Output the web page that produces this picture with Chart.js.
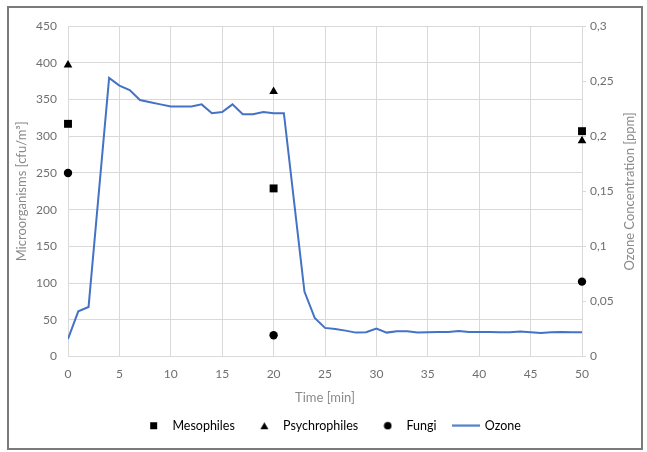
<!DOCTYPE html>
<html>
<head>
<meta charset="utf-8">
<script src="https://cdn.jsdelivr.net/npm/chart.js@4"></script>
<style>
  html, body { margin: 0; padding: 0; background: #fff; }
  #frame {
    position: absolute; left: 7px; top: 6px;
    width: 636px; height: 444px;
    border: 2px solid #7a7a7a; box-sizing: border-box;
  }
  #frame canvas { display: block; }
</style>
</head>
<body>
<div id="frame"><canvas id="chart" width="632" height="440"></canvas></div>
<script>
// ================= DATA =================
const times = [0,1,2,3,4,5,6,7,8,9,10,11,12,13,14,15,16,17,18,19,20,
  21,22,23,24,25,26,27,28,29,30,31,32,33,34,35,36,37,38,39,40,
  41,42,43,44,45,46,47,48,49,50];
const ozone = [0.016,0.041,0.045,0.149,0.253,0.246,0.242,0.233,0.231,0.229,0.227,
  0.227,0.227,0.229,0.221,0.222,0.229,0.220,0.220,0.222,0.221,
  0.221,0.140,0.059,0.035,0.026,0.025,0.0235,0.0217,0.022,0.0253,
  0.0217,0.023,0.023,0.0217,0.022,0.0223,0.0223,0.0231,0.0223,0.0223,
  0.0223,0.022,0.022,0.0227,0.022,0.0213,0.022,0.0223,0.022,0.022];

const sampleTimes = [0, 20, 50];
const mesophiles = [317, 229, 307];
const psychrophiles = [397, 361, 294];
const fungi = [250, 29, 102];

const xTicks = [0,5,10,15,20,25,30,35,40,45,50];
const leftTicks = [0,50,100,150,200,250,300,350,400,450];
const rightTicks = [0,0.05,0.1,0.15,0.2,0.25,0.3];

const FONT = "Lato, 'Open Sans', sans-serif";
const GRID = "#d9d9d9";
const TICK = "#6f6f6f";

function comma(v){
  return String(+(+v).toFixed(2)).replace(".", ",");
}

function pts(xs, ys){
  return xs.map((x,i)=>({x:x, y:ys[i]}));
}

// little legend icons
function icon(kind){
  const c = document.createElement("canvas");
  c.width = kind==="line" ? 28 : 9;
  c.height = kind==="line" ? 3 : 9;
  const g = c.getContext("2d");
  g.fillStyle = kind==="line" ? "#4472c4" : "#000";
  if(kind==="rect") g.fillRect(1,1,7,7);
  if(kind==="tri"){ g.beginPath(); g.moveTo(4.5,1); g.lineTo(8.5,8); g.lineTo(0.5,8); g.closePath(); g.fill(); }
  if(kind==="circle"){ g.beginPath(); g.arc(4.5,4.5,3.8,0,Math.PI*2); g.fill(); }
  if(kind==="line") g.fillRect(0,0.5,28,2);
  return c;
}
const icons = [icon("rect"), icon("tri"), icon("circle"), icon("line")];

// right axis title reads bottom to top, like the left one
const rightTitle = {
  id: "rightTitle",
  afterLayout(chart){
    // legend sits a little right of centre in the original
    chart.legend.left += 6;
    chart.legend.right += 6;
  },
  afterDraw(chart){
    const t = chart.scales.y1.options.title;
    const ctx = chart.ctx;
    ctx.save();
    ctx.translate(chart.width - 11, (chart.chartArea.top + chart.chartArea.bottom)/2);
    ctx.rotate(-Math.PI/2);
    ctx.font = "13px " + FONT;
    ctx.fillStyle = "#8a8a8a";
    ctx.textAlign = "center";
    ctx.textBaseline = "middle";
    ctx.fillText(t.text, 0, 0);
    ctx.restore();
  }
};

// ================= CHART =================
new Chart(document.getElementById("chart"), {
  data: {
    datasets: [
      { type:"scatter", label:"Mesophiles", data:pts(sampleTimes, mesophiles),
        pointStyle:"rect", pointRadius:5.6, backgroundColor:"#000", borderColor:"#000", borderWidth:0, clip:false, yAxisID:"y", order:1 },
      { type:"scatter", label:"Psychrophiles", data:pts(sampleTimes, psychrophiles),
        pointStyle:"triangle", pointRadius:5, backgroundColor:"#000", borderColor:"#000", borderWidth:0, clip:false, yAxisID:"y", order:1 },
      { type:"scatter", label:"Fungi", data:pts(sampleTimes, fungi),
        pointStyle:"circle", pointRadius:4.2, backgroundColor:"#000", borderColor:"#000", borderWidth:0, clip:false, yAxisID:"y", order:1 },
      { type:"line", label:"Ozone", data:pts(times, ozone),
        borderColor:"#4472c4", borderWidth:2, pointRadius:0, tension:0, fill:false, yAxisID:"y1", order:2 }
    ]
  },
  options: {
    responsive:false,
    animation:false,
    layout:{ padding:{ top:15, bottom:6, left:0, right:0 } },
    plugins:{
      tooltip:{ enabled:false },
      legend:{
        position:"bottom",
        labels:{
          usePointStyle:true,
          pointStyleWidth:25,
          padding:17,
          color:"#5f5f5f",
          font:{ family:FONT, size:12.5 },
          generateLabels(chart){
            return chart.data.datasets.map((d,i)=>({
              text:d.label, datasetIndex:i, pointStyle:icons[i],
              fillStyle:"#000", strokeStyle:"#000", lineWidth:0, hidden:false
            }));
          }
        }
      }
    },
    scales:{
      x:{
        type:"linear", min:0, max:50,
        afterBuildTicks(s){ s.ticks = xTicks.map(v=>({value:v})); },
        grid:{ color:GRID, drawTicks:false },
        border:{ color:GRID },
        ticks:{ padding:10, color:TICK, font:{ family:FONT, size:12 }, maxRotation:0 },
        title:{ display:true, text:"Time [min]", color:"#8a8a8a", font:{ family:FONT, size:13 }, padding:{ top:4, bottom:-3 } },
        afterFit(s){ s.height = 46; }
      },
      y:{
        position:"left", min:0, max:450,
        afterBuildTicks(s){ s.ticks = leftTicks.map(v=>({value:v})); },
        grid:{ color:GRID, drawTicks:false },
        border:{ color:GRID },
        ticks:{ padding:11, color:TICK, font:{ family:FONT, size:12 } },
        title:{ display:true, text:"Microorganisms [cfu/m³]", color:"#8a8a8a", font:{ family:FONT, size:13 }, padding:{ top:5, bottom:4 } },
        afterFit(s){ s.width = 59; }
      },
      y1:{
        position:"right", min:0, max:0.3,
        afterBuildTicks(s){ s.ticks = rightTicks.map(v=>({value:v})); },
        grid:{ drawOnChartArea:false, color:GRID, tickLength:4 },
        border:{ display:false },
        ticks:{ padding:4, color:TICK, font:{ family:FONT, size:12 }, callback:v=>comma(v) },
        title:{ display:false, text:"Ozone Concentration [ppm]" },
        afterFit(s){ s.width = 59; }
      }
    }
  },
  plugins:[rightTitle]
});
</script>
</body>
</html>
